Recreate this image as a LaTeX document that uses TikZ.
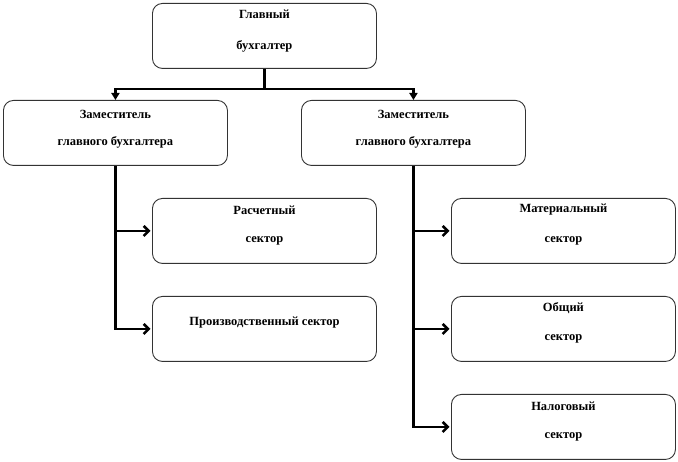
\documentclass[tikz,border=0pt]{standalone}
\usepackage{fontspec}
\setmainfont{Liberation Serif}
\usetikzlibrary{arrows.meta}
\begin{document}
\begin{tikzpicture}[x=1pt,y=-1pt,
  box/.style={draw=black!80, line width=0.9pt, rounded corners=10pt, minimum width=224pt, minimum height=65pt, anchor=north west, inner sep=0pt},
  lbl/.style={font=\bfseries\fontsize{12.5}{13}\selectfont, inner sep=0pt, anchor=center},
  conn/.style={line width=2.6pt, draw=black},
  down/.style={conn, -{Triangle[length=7pt,width=8pt]}},
  side/.style={conn, -{Straight Barb[length=5pt,width=10pt,line width=2.6pt]}, shorten >=1.5pt}]
\useasboundingbox (0,0) rectangle (678,462);
\node[box] (top) at (152,3) {};
\node[box] (ldep) at (3,100) {};
\node[box] (rdep) at (301,100) {};
\node[box] (rasch) at (152,198) {};
\node[box] (prod) at (152,296) {};
\node[box] (mat) at (451,198) {};
\node[box] (obsh) at (451,296) {};
\node[box] (nal) at (451,394) {};
% texts
\node[lbl] (t1) at ([yshift=-11]top.north) {Главный};
\node[lbl] (t2) at ([yshift=-43]top.north) {бухгалтер};
\node[lbl] (l1) at ([yshift=-14]ldep.north) {Заместитель};
\node[lbl] (l2) at ([yshift=-42]ldep.north) {главного бухгалтера};
\node[lbl] (r1) at ([yshift=-14]rdep.north) {Заместитель};
\node[lbl] (r2) at ([yshift=-42]rdep.north) {главного бухгалтера};
\node[lbl] (a1) at ([yshift=-12]rasch.north) {Расчетный};
\node[lbl] (a2) at ([yshift=-43]rasch.north) {сектор};
\node[lbl] (p1) at ([yshift=-27]prod.north) {Производственный сектор};
\node[lbl] (m1) at ([yshift=-12]mat.north) {Материальный};
\node[lbl] (m2) at ([yshift=-43]mat.north) {сектор};
\node[lbl] (o1) at ([yshift=-12]obsh.north) {Общий};
\node[lbl] (o2) at ([yshift=-43]obsh.north) {сектор};
\node[lbl] (n1) at ([yshift=-12]nal.north) {Налоговый};
\node[lbl] (n2) at ([yshift=-43]nal.north) {сектор};
% connectors
\draw[conn] (top.south) -- ++(0,20) coordinate (j);
\draw[down] (j) -| (ldep.north);
\draw[down] (j) -| (rdep.north);
\draw[side] (ldep.south) |- (prod.west);
\draw[side] (ldep.south |- rasch.west) -- (rasch.west);
\draw[side] (rdep.south) |- (nal.west);
\draw[side] (rdep.south |- mat.west) -- (mat.west);
\draw[side] (rdep.south |- obsh.west) -- (obsh.west);
\end{tikzpicture}
\end{document}
